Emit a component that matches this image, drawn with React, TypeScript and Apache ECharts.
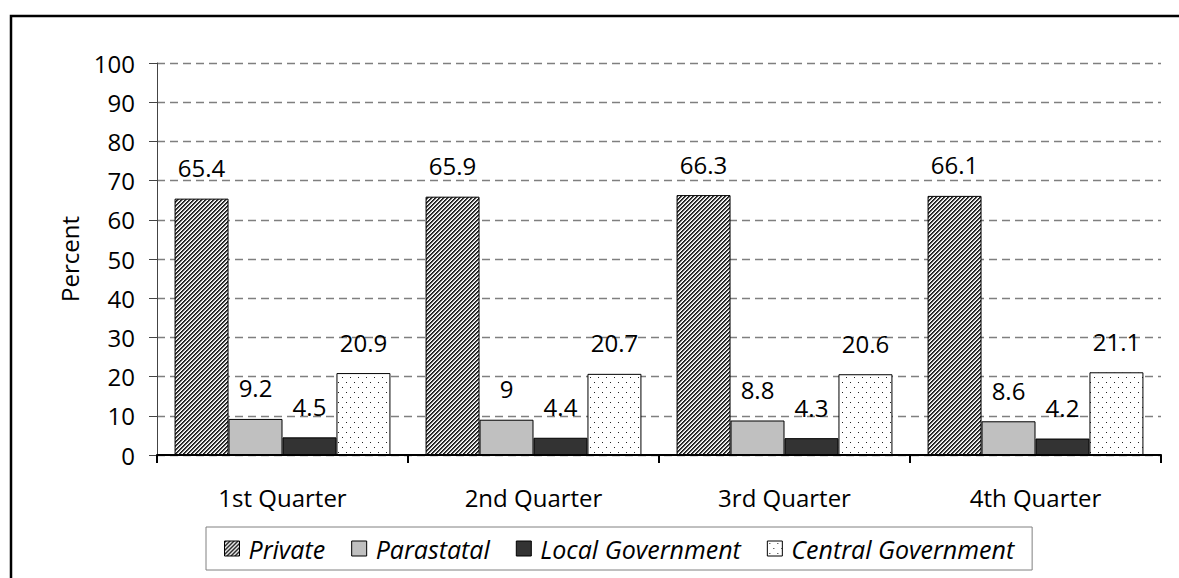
import React, { useEffect, useRef } from "react";
import * as echarts from "echarts";

const categories = ["1st Quarter", "2nd Quarter", "3rd Quarter", "4th Quarter"];
const seriesNames = ["Private", "Parastatal", "Local Government", "Central Government"];
const privateVals = [65.4, 65.9, 66.3, 66.1];
const parastatalVals = [9.2, 9, 8.8, 8.6];
const localVals = [4.5, 4.4, 4.3, 4.2];
const centralVals = [20.9, 20.7, 20.6, 21.1];
const yTicks = [0, 10, 20, 30, 40, 50, 60, 70, 80, 90, 100];

function stripeTile() {
  const c = document.createElement("canvas");
  c.width = 4;
  c.height = 4;
  const ctx = c.getContext("2d")!;
  ctx.fillStyle = "#ffffff";
  ctx.fillRect(0, 0, 4, 4);
  for (let x = 0; x < 4; x++) {
    for (let y = 0; y < 4; y++) {
      const m = (x + y) % 4;
      if (m === 0 || m === 1) {
        ctx.fillStyle = m === 0 ? "#1a1a1a" : "#404040";
        ctx.fillRect(x, y, 1, 1);
      } else if (m === 2) {
        ctx.fillStyle = "#cccccc";
        ctx.fillRect(x, y, 1, 1);
      }
    }
  }
  return { image: c, repeat: "repeat", imageWidth: 4, imageHeight: 4 };
}

function dotTile() {
  const c = document.createElement("canvas");
  c.width = 8;
  c.height = 10;
  const ctx = c.getContext("2d")!;
  ctx.fillStyle = "#ffffff";
  ctx.fillRect(0, 0, 8, 10);
  ctx.fillStyle = "#222222";
  ctx.fillRect(2, 2, 1, 1);
  ctx.fillRect(6, 7, 1, 1);
  return { image: c, repeat: "repeat", imageWidth: 8, imageHeight: 10 };
}

export default function App() {
  const ref = useRef<HTMLDivElement>(null);
  useEffect(() => {
    const chart = echarts.init(ref.current!, null, { renderer: "svg" });
    const font = "'Open Sans', sans-serif";
    const fills: any[] = [stripeTile(), "#c0c0c0", "#333333", dotTile()];
    const values = [privateVals, parastatalVals, localVals, centralVals];
    const series = seriesNames.map((name, i) => ({
      name,
      type: "bar",
      data: values[i],
      barGap: "0%",
      barCategoryGap: "14%",
      itemStyle: { color: fills[i], borderColor: "#000", borderWidth: 1 },
      label: {
        show: true,
        position: "top",
        distance: 19,
        fontFamily: font,
        fontSize: 24,
        color: "#000",
      },
    }));
    chart.setOption({
      animation: false,
      backgroundColor: "#fff",
      graphic: [
        {
          type: "rect",
          shape: { x: 11, y: 16, width: 1400, height: 800 },
          style: { fill: "none", stroke: "#000", lineWidth: 2.5 },
          silent: true,
        },
      ],
      grid: { left: 157, right: 18, top: 63, bottom: 123 },
      legend: {
        left: 206,
        top: 527,
        padding: [9, 18, 9, 18],
        borderColor: "#808080",
        borderWidth: 1,
        itemWidth: 15,
        itemHeight: 15,
        itemGap: 26,
        icon: "rect",
        itemStyle: { borderColor: "#000", borderWidth: 1 },
        textStyle: {
          fontFamily: font,
          fontStyle: "italic",
          fontSize: 25,
          color: "#000",
          padding: [0, 0, 0, 4],
        },
        data: seriesNames,
      },
      xAxis: {
        type: "category",
        data: categories,
        axisLine: { lineStyle: { color: "#000", width: 2 } },
        axisTick: { show: true, length: 8, lineStyle: { color: "#000", width: 2 } },
        axisLabel: { fontFamily: font, fontSize: 24, color: "#000", margin: 30 },
      },
      yAxis: {
        type: "value",
        min: yTicks[0],
        max: yTicks[yTicks.length - 1],
        interval: 10,
        name: "Percent",
        nameLocation: "middle",
        nameRotate: 90,
        nameGap: 76,
        nameTextStyle: { fontFamily: font, fontSize: 24, color: "#000" },
        axisLine: { show: true, lineStyle: { color: "#444", width: 1 } },
        axisTick: { show: true, length: 8, lineStyle: { color: "#444", width: 1 } },
        axisLabel: { fontFamily: font, fontSize: 24, color: "#000", margin: 22 },
        splitLine: {
          show: true,
          lineStyle: { color: "#7f7f7f", type: [8, 5], width: 1.3 },
        },
      },
      series,
    });
    return () => chart.dispose();
  }, []);
  return (
    <div
      ref={ref}
      style={{ position: "fixed", left: 0, top: 0, width: 1179, height: 578 }}
    />
  );
}
